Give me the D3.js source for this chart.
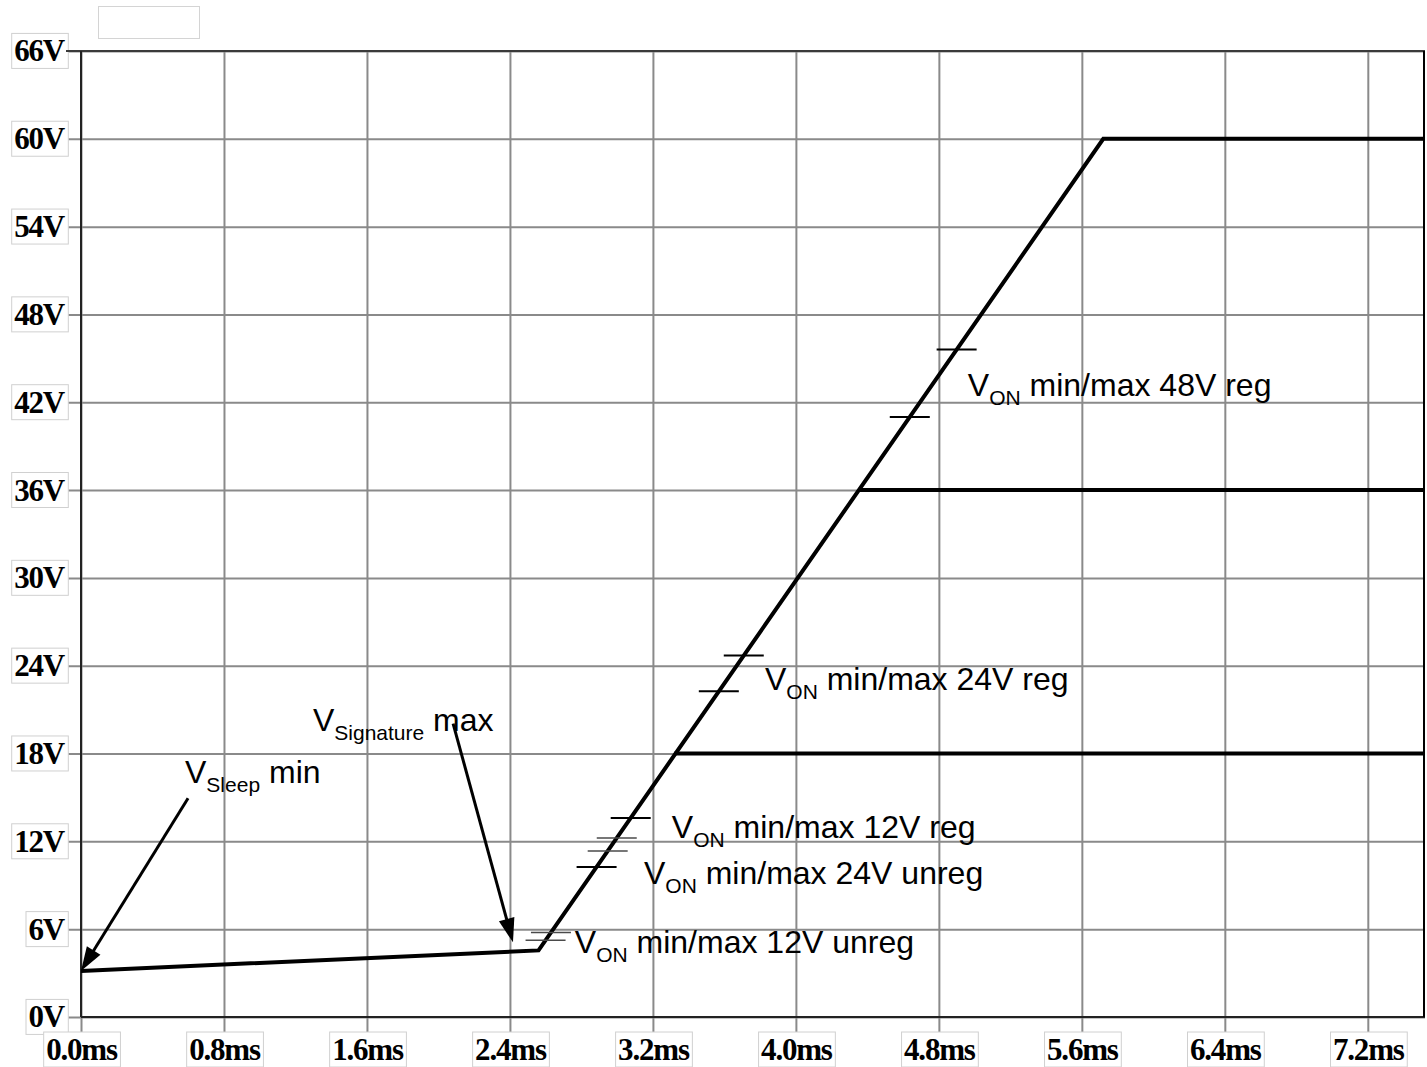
<!DOCTYPE html>
<html>
<head>
<meta charset="utf-8">
<script src="https://cdn.jsdelivr.net/npm/d3@7"></script>
<style>
  html, body { margin: 0; padding: 0; background: #fff; }
  svg { display: block; }
  .tick-label { font-family: "Liberation Serif", "Times New Roman", serif; font-weight: bold; font-size: 31px; letter-spacing: -1.2px; fill: #000; }
  .note { font-family: "Liberation Sans", Arial, sans-serif; font-size: 32px; fill: #000; }
</style>
</head>
<body>
<script>
// Axis ticks
const timeTicks = [0, 0.8, 1.6, 2.4, 3.2, 4.0, 4.8, 5.6, 6.4, 7.2];
const timeLabels = ["0.0ms", "0.8ms", "1.6ms", "2.4ms", "3.2ms", "4.0ms", "4.8ms", "5.6ms", "6.4ms", "7.2ms"];
const voltTicks = [0, 6, 12, 18, 24, 30, 36, 42, 48, 54, 60, 66];
const voltLabels = ["0V", "6V", "12V", "18V", "24V", "30V", "36V", "42V", "48V", "54V", "60V", "66V"];

// Supply ramp (ms, V): slow detection phase, then the ramp up to 60 V
const rampTime = [0, 2.56, 5.72, 7.52];
const rampVolt = [3.15, 4.55, 60, 60];

// Regulated outputs that stop following the ramp
const clamp36Time = [4.35, 7.52];
const clamp36Volt = [36, 36];
const clamp18Time = [3.32, 7.52];
const clamp18Volt = [18, 18];

// V_ON min/max thresholds marked along the ramp
const vonLevels = [45.6, 41.0, 24.7, 22.25, 13.6, 12.23, 11.34, 10.25, 5.77, 5.24];
const vonHeavy  = [true, true, true, true, true, false, false, true, false, false];

// Annotation texts (main letter, subscript, rest) and their anchors (ms, V)
const noteSubs  = ["ON", "ON", "ON", "ON", "ON", "Signature", "Sleep"];
const noteRests = [" min/max 48V reg", " min/max 24V reg", " min/max 12V reg", " min/max 24V unreg", " min/max 12V unreg", " max", " min"];
const noteTime  = [4.962, 3.827, 3.306, 3.150, 2.763, 1.298, 0.582];
const noteVolt  = [42.40, 22.33, 12.21, 9.07, 4.36, 19.52, 15.97];

// Pointer arrows: from (ms, V) to (ms, V)
const arrowFrom = [[0.599, 14.95], [2.082, 20.05]];
const arrowTo   = [[0.0, 3.15], [2.417, 5.10]];

const W = 1427, H = 1067;
const x = d3.scaleLinear().domain([0, 7.52]).range([81, 1425]);
const y = d3.scaleLinear().domain([0, 66]).range([1017, 51]);

const svg = d3.select("body").append("svg").attr("width", W).attr("height", H);

// empty title box
svg.append("rect").attr("x", 98.5).attr("y", 6.5).attr("width", 101).attr("height", 32)
  .attr("fill", "#fff").attr("stroke", "#d4d4d4").attr("stroke-width", 1);

const gridColor = "#8a8a8a";

// Y axis with full-width grid lines
const yAxis = svg.append("g").attr("transform", `translate(${x(0)},0)`)
  .call(d3.axisLeft(y).tickValues(voltTicks)
    .tickFormat((d, i) => voltLabels[i])
    .tickSizeInner(-(x.range()[1] - x.range()[0])).tickSizeOuter(0).tickPadding(17));
yAxis.select(".domain").remove();
yAxis.selectAll(".tick line").attr("x1", -15).attr("stroke", gridColor).attr("stroke-width", 2);
yAxis.selectAll(".tick text").attr("class", "tick-label").attr("dy", "0.32em");

// X axis with full-height grid lines
const xAxis = svg.append("g").attr("transform", `translate(0,${y(0)})`)
  .call(d3.axisBottom(x).tickValues(timeTicks)
    .tickFormat((d, i) => timeLabels[i])
    .tickSizeInner(-(y.range()[0] - y.range()[1])).tickSizeOuter(0).tickPadding(21));
xAxis.select(".domain").remove();
xAxis.selectAll(".tick line").attr("y1", 16).attr("stroke", gridColor).attr("stroke-width", 2);
xAxis.selectAll(".tick text").attr("class", "tick-label");

svg.selectAll("g").attr("font-size", null).attr("font-family", null);

// Boxes behind the tick labels
svg.selectAll(".tick text").each(function () {
  const b = this.getBBox();
  d3.select(this.parentNode).insert("rect", "text")
    .attr("x", b.x - 2.5).attr("y", b.y).attr("width", b.width + 5).attr("height", b.height)
    .attr("fill", "#fff").attr("stroke", "#d0d0d0").attr("stroke-width", 1);
});

// Plot frame
const frame = svg.append("g").attr("stroke", "#222").attr("stroke-width", 2).attr("fill", "none");
frame.append("line").attr("x1", x(0) - 15).attr("x2", x.range()[1]).attr("y1", y(66)).attr("y2", y(66)).attr("stroke", "#3a3a3a");
frame.append("line").attr("x1", x(0)).attr("x2", x(0)).attr("y1", y(66)).attr("y2", y(0));
frame.append("line").attr("x1", x(0)).attr("x2", x.range()[1]).attr("y1", y(0)).attr("y2", y(0));
frame.append("line").attr("x1", x.range()[1] - 1).attr("x2", x.range()[1] - 1).attr("y1", y(66)).attr("y2", y(0)).attr("stroke", "#000");

// Curves
const line = d3.line().x(d => x(d[0])).y(d => y(d[1]));
const series = [
  rampTime.map((t, i) => [t, rampVolt[i]]),
  clamp36Time.map((t, i) => [t, clamp36Volt[i]]),
  clamp18Time.map((t, i) => [t, clamp18Volt[i]])
];
svg.append("g").selectAll("path").data(series).join("path")
  .attr("d", line).attr("fill", "none").attr("stroke", "#000")
  .attr("stroke-width", 4).attr("stroke-linejoin", "miter");

// Threshold marks centred on the ramp
const rampAt = d3.scaleLinear().domain([rampVolt[1], rampVolt[2]]).range([rampTime[1], rampTime[2]]);
svg.append("g").selectAll("line").data(vonLevels).join("line")
  .attr("x1", d => x(rampAt(d)) - 20).attr("x2", d => x(rampAt(d)) + 20)
  .attr("y1", d => y(d)).attr("y2", d => y(d))
  .attr("stroke", (d, i) => vonHeavy[i] ? "#000" : "#4a4a4a")
  .attr("stroke-width", (d, i) => vonHeavy[i] ? 2 : 1.4);

// Annotation texts
const notes = svg.append("g").selectAll("text").data(noteSubs).join("text")
  .attr("class", "note")
  .attr("x", (d, i) => x(noteTime[i])).attr("y", (d, i) => y(noteVolt[i]));
notes.append("tspan").text("V");
notes.append("tspan").attr("font-size", 21).attr("dy", 9).text(d => d);
notes.append("tspan").attr("dy", -9).text((d, i) => noteRests[i]);

// Arrows
const arrows = svg.append("g");
arrowFrom.forEach((f, i) => {
  const x0 = x(f[0]), y0 = y(f[1]);
  const x1 = x(arrowTo[i][0]), y1 = y(arrowTo[i][1]);
  const len = Math.hypot(x1 - x0, y1 - y0);
  const ux = (x1 - x0) / len, uy = (y1 - y0) / len;
  const hl = 24, hw = 8;
  const bx = x1 - ux * hl, by = y1 - uy * hl;
  arrows.append("line").attr("x1", x0).attr("y1", y0).attr("x2", bx + ux * 2).attr("y2", by + uy * 2)
    .attr("stroke", "#000").attr("stroke-width", 3);
  arrows.append("path")
    .attr("d", `M${x1},${y1}L${bx - uy * hw},${by + ux * hw}L${bx + uy * hw},${by - ux * hw}Z`)
    .attr("fill", "#000");
});
</script>
</body>
</html>
